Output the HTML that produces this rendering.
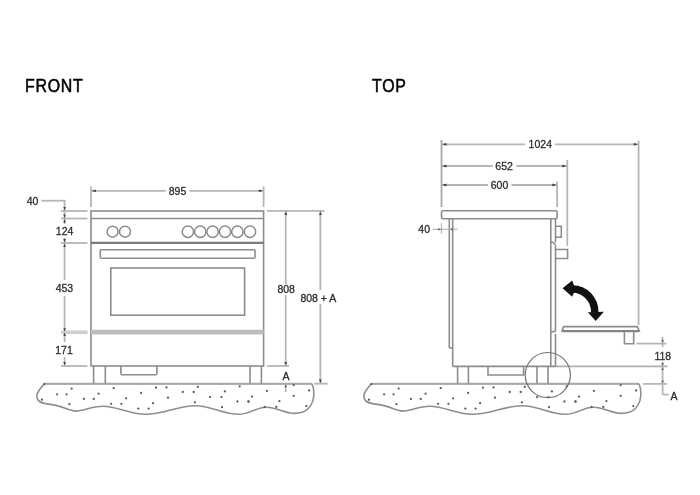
<!DOCTYPE html>
<html><head><meta charset="utf-8"><style>
html,body{margin:0;padding:0;background:#fff;}
body{width:700px;height:495px;overflow:hidden;position:relative;}
svg{position:absolute;left:0;top:0;}
svg text{font-family:"Liberation Sans",sans-serif;}
.title{position:absolute;font-family:"Liberation Sans",sans-serif;font-weight:normal;font-size:17.5px;letter-spacing:0.8px;color:#000;line-height:1;-webkit-text-stroke:0.5px #000;transform:scaleX(0.91);transform-origin:0 0;}
</style></head><body>
<svg width="700" height="495" viewBox="0 0 700 495">
<g id="ground"><path d="M44.3,383.7 H311.4 C313.3,385.5 313.9,391 313.8,395.5 C313.6,403 309,410 302,412.3 C299,413.2 297,413.4 294.9,413.4 C284,413.4 277,407.2 266.3,407.2 C256,407.2 250,414.3 238.6,414.3 C222,414.3 212,405.7 195.1,405.7 C178,405.7 163,414.3 145.7,414.3 C128,414.3 118,406.3 103,406.3 C91,406.3 84,411.1 75.7,411.1 C69,411.1 62,405.8 52,404.6 C45,403.8 40,403.2 38,400 C36,397 37,393 39.6,389.5 L44.3,383.7 Z" fill="none" stroke="#8e8e8e" stroke-width="1.6"/><line x1="44.3" y1="383.7" x2="311.4" y2="383.7" stroke="#a8a8a8" stroke-width="2"/><circle cx="71.7" cy="388.6" r="1.15" fill="#5e5e5e"/><circle cx="57.1" cy="394.3" r="1.15" fill="#5e5e5e"/><circle cx="66.6" cy="394.3" r="1.15" fill="#5e5e5e"/><circle cx="98.6" cy="393.7" r="1.15" fill="#5e5e5e"/><circle cx="42" cy="399.7" r="1.15" fill="#5e5e5e"/><circle cx="83.9" cy="398.9" r="1.15" fill="#5e5e5e"/><circle cx="93.8" cy="398.9" r="1.15" fill="#5e5e5e"/><circle cx="69.4" cy="404.2" r="1.15" fill="#5e5e5e"/><circle cx="113.7" cy="388.2" r="1.15" fill="#5e5e5e"/><circle cx="156" cy="387.7" r="1.15" fill="#5e5e5e"/><circle cx="166.5" cy="387.4" r="1.15" fill="#5e5e5e"/><circle cx="141.1" cy="392.9" r="1.15" fill="#5e5e5e"/><circle cx="126.1" cy="398.3" r="1.15" fill="#5e5e5e"/><circle cx="168" cy="397.7" r="1.15" fill="#5e5e5e"/><circle cx="111.1" cy="403.8" r="1.15" fill="#5e5e5e"/><circle cx="121.4" cy="403.8" r="1.15" fill="#5e5e5e"/><circle cx="153.1" cy="403.2" r="1.15" fill="#5e5e5e"/><circle cx="138.3" cy="408.6" r="1.15" fill="#5e5e5e"/><circle cx="148.6" cy="408.6" r="1.15" fill="#5e5e5e"/><circle cx="197.8" cy="386.9" r="1.15" fill="#5e5e5e"/><circle cx="239.7" cy="386.3" r="1.15" fill="#5e5e5e"/><circle cx="182.8" cy="392" r="1.15" fill="#5e5e5e"/><circle cx="193.7" cy="392" r="1.15" fill="#5e5e5e"/><circle cx="224.9" cy="391.4" r="1.15" fill="#5e5e5e"/><circle cx="210" cy="397.1" r="1.15" fill="#5e5e5e"/><circle cx="221.4" cy="397.1" r="1.15" fill="#5e5e5e"/><circle cx="194.9" cy="402.3" r="1.15" fill="#5e5e5e"/><circle cx="237.4" cy="401.5" r="1.15" fill="#5e5e5e"/><circle cx="248.3" cy="401.5" r="1.15" fill="#5e5e5e"/><circle cx="222" cy="407.2" r="1.15" fill="#5e5e5e"/><circle cx="293.7" cy="385.1" r="1.15" fill="#5e5e5e"/><circle cx="309.1" cy="390.5" r="1.15" fill="#5e5e5e"/><circle cx="266.9" cy="390.9" r="1.15" fill="#5e5e5e"/><circle cx="252" cy="396.6" r="1.15" fill="#5e5e5e"/><circle cx="293.7" cy="395.8" r="1.15" fill="#5e5e5e"/><circle cx="248.6" cy="401.7" r="1.15" fill="#5e5e5e"/><circle cx="279.4" cy="401.1" r="1.15" fill="#5e5e5e"/><circle cx="306.3" cy="406.1" r="1.15" fill="#5e5e5e"/><circle cx="264.6" cy="406.9" r="1.15" fill="#5e5e5e"/><circle cx="276.3" cy="406.9" r="1.15" fill="#5e5e5e"/><circle cx="44.4" cy="384.1" r="1.15" fill="#5e5e5e"/></g>
<use href="#ground" transform="translate(327,0)"/>
<rect x="91" y="211" width="172.6" height="155" rx="0" fill="none" stroke="#8c8c8c" stroke-width="1.6"/>
<line x1="91" y1="218.5" x2="263.6" y2="218.5" stroke="#8c8c8c" stroke-width="1.6"/>
<line x1="91" y1="242.9" x2="263.6" y2="242.9" stroke="#7c7c7c" stroke-width="2.3"/>
<circle cx="112.6" cy="231.7" r="5.5" fill="none" stroke="#8a8a8a" stroke-width="1.5"/>
<circle cx="125" cy="231.7" r="5.5" fill="none" stroke="#8a8a8a" stroke-width="1.5"/>
<circle cx="187.9" cy="231.7" r="5.7" fill="none" stroke="#8a8a8a" stroke-width="1.5"/>
<circle cx="200.3" cy="231.7" r="5.7" fill="none" stroke="#8a8a8a" stroke-width="1.5"/>
<circle cx="212.6" cy="231.7" r="5.7" fill="none" stroke="#8a8a8a" stroke-width="1.5"/>
<circle cx="225" cy="231.7" r="5.7" fill="none" stroke="#8a8a8a" stroke-width="1.5"/>
<circle cx="237.4" cy="231.7" r="5.7" fill="none" stroke="#8a8a8a" stroke-width="1.5"/>
<circle cx="250" cy="231.7" r="5.7" fill="none" stroke="#8a8a8a" stroke-width="1.5"/>
<path d="M101.3,249.7 H254 Q255,249.7 255,250.7 V257.3 Q255,258.3 254,258.3 H101.3 Q100.3,258.3 100.3,257.3 V250.7 Q100.3,249.7 101.3,249.7 Z" fill="none" stroke="#8c8c8c" stroke-width="1.6"/>
<rect x="110.8" y="268" width="133.8" height="47.2" rx="0" fill="none" stroke="#8c8c8c" stroke-width="1.6"/>
<line x1="91" y1="332.1" x2="263.6" y2="332.1" stroke="#bdbdbd" stroke-width="4.6"/>
<line x1="93.6" y1="366" x2="93.6" y2="383.7" stroke="#8c8c8c" stroke-width="1.6"/>
<line x1="105.3" y1="366" x2="105.3" y2="383.7" stroke="#8c8c8c" stroke-width="1.6"/>
<line x1="250" y1="366" x2="250" y2="383.7" stroke="#8c8c8c" stroke-width="1.6"/>
<line x1="261.4" y1="366" x2="261.4" y2="383.7" stroke="#8c8c8c" stroke-width="1.6"/>
<path d="M120.9,366 V373.8 Q120.9,374.8 121.9,374.8 H155.9 Q156.9,374.8 156.9,373.8 V366" fill="none" stroke="#8c8c8c" stroke-width="1.6"/>
<line x1="91" y1="186.5" x2="91" y2="207" stroke="#b6b6b6" stroke-width="1.8"/>
<line x1="263.6" y1="186.5" x2="263.6" y2="207" stroke="#b6b6b6" stroke-width="1.8"/>
<line x1="91" y1="190.8" x2="165.7" y2="190.8" stroke="#b6b6b6" stroke-width="1.8"/>
<line x1="189.3" y1="190.8" x2="263.6" y2="190.8" stroke="#b6b6b6" stroke-width="1.8"/>
<polygon points="91.6,190.8 95.8,189.4 95.8,192.2" fill="#444"/>
<polygon points="263,190.8 258.8,189.4 258.8,192.2" fill="#444"/>
<line x1="41.4" y1="200.7" x2="65.6" y2="200.7" stroke="#b6b6b6" stroke-width="1.8"/>
<line x1="64.6" y1="200.7" x2="64.6" y2="224" stroke="#b6b6b6" stroke-width="1.8"/>
<line x1="64.6" y1="238" x2="64.6" y2="280" stroke="#b6b6b6" stroke-width="1.8"/>
<line x1="64.6" y1="296" x2="64.6" y2="342" stroke="#b6b6b6" stroke-width="1.8"/>
<line x1="64.6" y1="357" x2="64.6" y2="366" stroke="#b6b6b6" stroke-width="1.8"/>
<line x1="61" y1="211" x2="87.5" y2="211" stroke="#b6b6b6" stroke-width="1.8"/>
<line x1="61" y1="218.5" x2="87.5" y2="218.5" stroke="#b6b6b6" stroke-width="1.8"/>
<line x1="61" y1="243" x2="87.5" y2="243" stroke="#b6b6b6" stroke-width="1.8"/>
<line x1="61" y1="366" x2="87.5" y2="366" stroke="#b6b6b6" stroke-width="1.8"/>
<line x1="61" y1="332.3" x2="87.5" y2="332.3" stroke="#cfcfcf" stroke-width="3.6"/>
<polygon points="64.6,210.5 63.3,207.1 65.9,207.1" fill="#444"/>
<polygon points="64.6,218 63.3,214.6 65.9,214.6" fill="#444"/>
<polygon points="64.6,219 63.3,222.4 65.9,222.4" fill="#444"/>
<polygon points="64.6,242.5 63.3,239.1 65.9,239.1" fill="#444"/>
<polygon points="64.6,243.5 63.3,246.9 65.9,246.9" fill="#444"/>
<polygon points="64.6,331.6 63.3,328.2 65.9,328.2" fill="#444"/>
<polygon points="64.6,332.6 63.3,336 65.9,336" fill="#444"/>
<polygon points="64.6,365.5 63.3,362.1 65.9,362.1" fill="#444"/>
<line x1="267" y1="210.8" x2="324.5" y2="210.8" stroke="#b6b6b6" stroke-width="1.8"/>
<line x1="285.7" y1="211" x2="285.7" y2="284" stroke="#b6b6b6" stroke-width="1.8"/>
<line x1="285.7" y1="295" x2="285.7" y2="366" stroke="#b6b6b6" stroke-width="1.8"/>
<line x1="320.4" y1="211" x2="320.4" y2="290" stroke="#b6b6b6" stroke-width="1.8"/>
<line x1="320.4" y1="304" x2="320.4" y2="383.7" stroke="#b6b6b6" stroke-width="1.8"/>
<polygon points="285.8,211.5 284.4,215.1 287.2,215.1" fill="#444"/>
<polygon points="320.4,211.5 319,215.1 321.8,215.1" fill="#444"/>
<polygon points="285.8,365.5 284.4,361.9 287.2,361.9" fill="#444"/>
<polygon points="320.4,383.2 319,379.6 321.8,379.6" fill="#444"/>
<line x1="267" y1="366" x2="289" y2="366" stroke="#b6b6b6" stroke-width="1.8"/>
<line x1="314" y1="383.7" x2="327.7" y2="383.7" stroke="#b6b6b6" stroke-width="1.8"/>
<line x1="285.7" y1="384" x2="285.7" y2="392" stroke="#b6b6b6" stroke-width="1.8"/>
<polygon points="285.7,384.2 284.6,387.2 286.8,387.2" fill="#555"/>
<path d="M443,210.7 H555.6 Q557.1,210.7 557.1,212.2 V217.2 Q557.1,218.7 555.6,218.7 H443 Q441.5,218.7 441.5,217.2 V212.2 Q441.5,210.7 443,210.7 Z" fill="none" stroke="#8c8c8c" stroke-width="1.6"/>
<line x1="449.3" y1="218.7" x2="449.3" y2="348" stroke="#8c8c8c" stroke-width="1.6"/>
<line x1="449.3" y1="348" x2="452.7" y2="348" stroke="#8c8c8c" stroke-width="1.6"/>
<line x1="452.7" y1="218.7" x2="452.7" y2="366.4" stroke="#8c8c8c" stroke-width="1.6"/>
<line x1="550.8" y1="219" x2="550.8" y2="366.4" stroke="#8c8c8c" stroke-width="1.6"/>
<line x1="555.5" y1="219" x2="555.5" y2="242.4" stroke="#8c8c8c" stroke-width="1.6"/>
<line x1="550.8" y1="242.3" x2="553.2" y2="242.3" stroke="#8c8c8c" stroke-width="1.6"/>
<line x1="553" y1="242.3" x2="555.5" y2="244.8" stroke="#8c8c8c" stroke-width="1.6"/>
<line x1="555.5" y1="245" x2="555.5" y2="331.6" stroke="#8c8c8c" stroke-width="1.6"/>
<line x1="550.8" y1="331.6" x2="555.5" y2="331.6" stroke="#8c8c8c" stroke-width="1.6"/>
<line x1="555.5" y1="334" x2="555.5" y2="366.4" stroke="#8c8c8c" stroke-width="1.6"/>
<line x1="452.7" y1="366.4" x2="556" y2="366.4" stroke="#8c8c8c" stroke-width="1.6"/>
<line x1="556" y1="366.4" x2="667.5" y2="366.4" stroke="#b0b0b0" stroke-width="1.6"/>
<path d="M555.5,226.2 H561.3 V237.2 H555.5" fill="none" stroke="#8c8c8c" stroke-width="1.6"/>
<path d="M555.5,249.5 H567.6 V258.5 H555.5" fill="none" stroke="#8c8c8c" stroke-width="1.6"/>
<line x1="457.6" y1="366.4" x2="457.6" y2="383.7" stroke="#8c8c8c" stroke-width="1.6"/>
<line x1="468.4" y1="366.4" x2="468.4" y2="383.7" stroke="#8c8c8c" stroke-width="1.6"/>
<line x1="537" y1="366.4" x2="537" y2="383.7" stroke="#8c8c8c" stroke-width="1.6"/>
<line x1="548" y1="366.4" x2="548" y2="383.7" stroke="#8c8c8c" stroke-width="1.6"/>
<path d="M488,366.4 V375 H523.6 V366.4" fill="none" stroke="#8c8c8c" stroke-width="1.6"/>
<circle cx="547.8" cy="375.1" r="22.6" fill="none" stroke="#737373" stroke-width="1.2"/>
<path d="M563.6,326.7 H637.3 L639.2,330.9 H562.1 Z" fill="none" stroke="#8c8c8c" stroke-width="1.7"/>
<line x1="562.3" y1="331.1" x2="639.2" y2="331.1" stroke="#858585" stroke-width="2.3"/>
<path d="M624.4,332.2 V343.7 H633.7 V332.2" fill="none" stroke="#8c8c8c" stroke-width="1.6"/>
<path d="M572.5,289 A22.25,23 0 0 1 594.75,312.5" fill="none" stroke="#111" stroke-width="7.5"/>
<polygon points="562.6,288.3 572.2,280.5 573.8,285 573.8,293 572.2,296.8" fill="#111"/>
<polygon points="595.7,320.9 587.8,312.2 603.9,311.8" fill="#111"/>
<line x1="441.5" y1="140" x2="441.5" y2="207" stroke="#a8a8a8" stroke-width="1.8"/>
<line x1="567.3" y1="160" x2="567.3" y2="245.7" stroke="#b6b6b6" stroke-width="1.8"/>
<line x1="557.1" y1="181.4" x2="557.1" y2="207" stroke="#b6b6b6" stroke-width="1.8"/>
<line x1="638.6" y1="140.7" x2="638.6" y2="325" stroke="#b6b6b6" stroke-width="1.8"/>
<line x1="441.7" y1="144.3" x2="525" y2="144.3" stroke="#b6b6b6" stroke-width="1.8"/>
<line x1="555" y1="144.3" x2="638.6" y2="144.3" stroke="#b6b6b6" stroke-width="1.8"/>
<line x1="441.7" y1="166" x2="492.9" y2="166" stroke="#b6b6b6" stroke-width="1.8"/>
<line x1="516.4" y1="166" x2="567.1" y2="166" stroke="#b6b6b6" stroke-width="1.8"/>
<line x1="441.7" y1="185" x2="487.9" y2="185" stroke="#b6b6b6" stroke-width="1.8"/>
<line x1="511.4" y1="185" x2="557.1" y2="185" stroke="#b6b6b6" stroke-width="1.8"/>
<polygon points="442.3,144.3 446.5,142.9 446.5,145.7" fill="#444"/>
<polygon points="442.3,166 446.5,164.6 446.5,167.4" fill="#444"/>
<polygon points="442.3,185 446.5,183.6 446.5,186.4" fill="#444"/>
<polygon points="638,144.3 633.8,142.9 633.8,145.7" fill="#444"/>
<polygon points="566.5,166 562.3,164.6 562.3,167.4" fill="#444"/>
<polygon points="556.5,185 552.3,183.6 552.3,186.4" fill="#444"/>
<line x1="432.5" y1="229.3" x2="457.5" y2="229.3" stroke="#b6b6b6" stroke-width="1.2"/>
<line x1="441.5" y1="223.2" x2="441.5" y2="233.5" stroke="#b6b6b6" stroke-width="1.2"/>
<polygon points="441.2,229.3 438.2,228.2 438.2,230.4" fill="#555"/>
<polygon points="449.8,229.3 452.8,228.2 452.8,230.4" fill="#555"/>
<line x1="636.4" y1="343.6" x2="666.4" y2="343.6" stroke="#b6b6b6" stroke-width="1.8"/>
<line x1="662.6" y1="336.8" x2="662.6" y2="347" stroke="#b6b6b6" stroke-width="1.8"/>
<line x1="662.6" y1="362" x2="662.6" y2="394.6" stroke="#b6b6b6" stroke-width="1.8"/>
<line x1="662.6" y1="394.6" x2="668.6" y2="394.6" stroke="#b6b6b6" stroke-width="1.8"/>
<line x1="643" y1="383.9" x2="667" y2="383.9" stroke="#b6b6b6" stroke-width="1.8"/>
<polygon points="662.6,343.1 661.5,340.1 663.7,340.1" fill="#555"/>
<polygon points="662.6,367 661.5,370 663.7,370" fill="#555"/>
<polygon points="662.6,366 661.5,363 663.7,363" fill="#555"/>
<polygon points="662.6,383.4 661.5,380.4 663.7,380.4" fill="#555"/>
<defs><filter id="id" x="0" y="0" width="700" height="495" filterUnits="userSpaceOnUse"><feConvolveMatrix order="3" kernelMatrix="0 0 0 0 1 0 0 0 0" edgeMode="none"/></filter></defs>
<g filter="url(#id)"><text x="177.5" y="194.9" font-size="10.5" text-anchor="middle" fill="#2e2e2e" stroke="#2e2e2e" stroke-width="0.3">895</text>
<text x="32.6" y="204.9" font-size="10.5" text-anchor="middle" fill="#2e2e2e" stroke="#2e2e2e" stroke-width="0.3">40</text>
<text x="64.6" y="234.9" font-size="10.5" text-anchor="middle" fill="#2e2e2e" stroke="#2e2e2e" stroke-width="0.3">124</text>
<text x="64.4" y="292.1" font-size="10.5" text-anchor="middle" fill="#2e2e2e" stroke="#2e2e2e" stroke-width="0.3">453</text>
<text x="64" y="354.2" font-size="10.5" text-anchor="middle" fill="#2e2e2e" stroke="#2e2e2e" stroke-width="0.3">171</text>
<text x="286.2" y="292.8" font-size="10.5" text-anchor="middle" fill="#2e2e2e" stroke="#2e2e2e" stroke-width="0.3">808</text>
<text x="318.4" y="301.8" font-size="10.5" text-anchor="middle" fill="#2e2e2e" stroke="#2e2e2e" stroke-width="0.3">808 + A</text>
<text x="286" y="379.5" font-size="10.5" text-anchor="middle" fill="#2e2e2e" stroke="#2e2e2e" stroke-width="0.3">A</text>
<text x="540.3" y="148.4" font-size="10.5" text-anchor="middle" fill="#2e2e2e" stroke="#2e2e2e" stroke-width="0.3">1024</text>
<text x="504.1" y="170.1" font-size="10.5" text-anchor="middle" fill="#2e2e2e" stroke="#2e2e2e" stroke-width="0.3">652</text>
<text x="499.5" y="189.1" font-size="10.5" text-anchor="middle" fill="#2e2e2e" stroke="#2e2e2e" stroke-width="0.3">600</text>
<text x="424.2" y="233.4" font-size="10.5" text-anchor="middle" fill="#2e2e2e" stroke="#2e2e2e" stroke-width="0.3">40</text>
<text x="662.8" y="360" font-size="10.5" text-anchor="middle" fill="#2e2e2e" stroke="#2e2e2e" stroke-width="0.3">118</text>
<text x="674" y="399.8" font-size="10.5" text-anchor="middle" fill="#2e2e2e" stroke="#2e2e2e" stroke-width="0.3">A</text></g>
</svg>
<div class="title" style="left:25px;top:78.3px;">FRONT</div>
<div class="title" style="left:372px;top:78.3px;">TOP</div>
</body></html>
